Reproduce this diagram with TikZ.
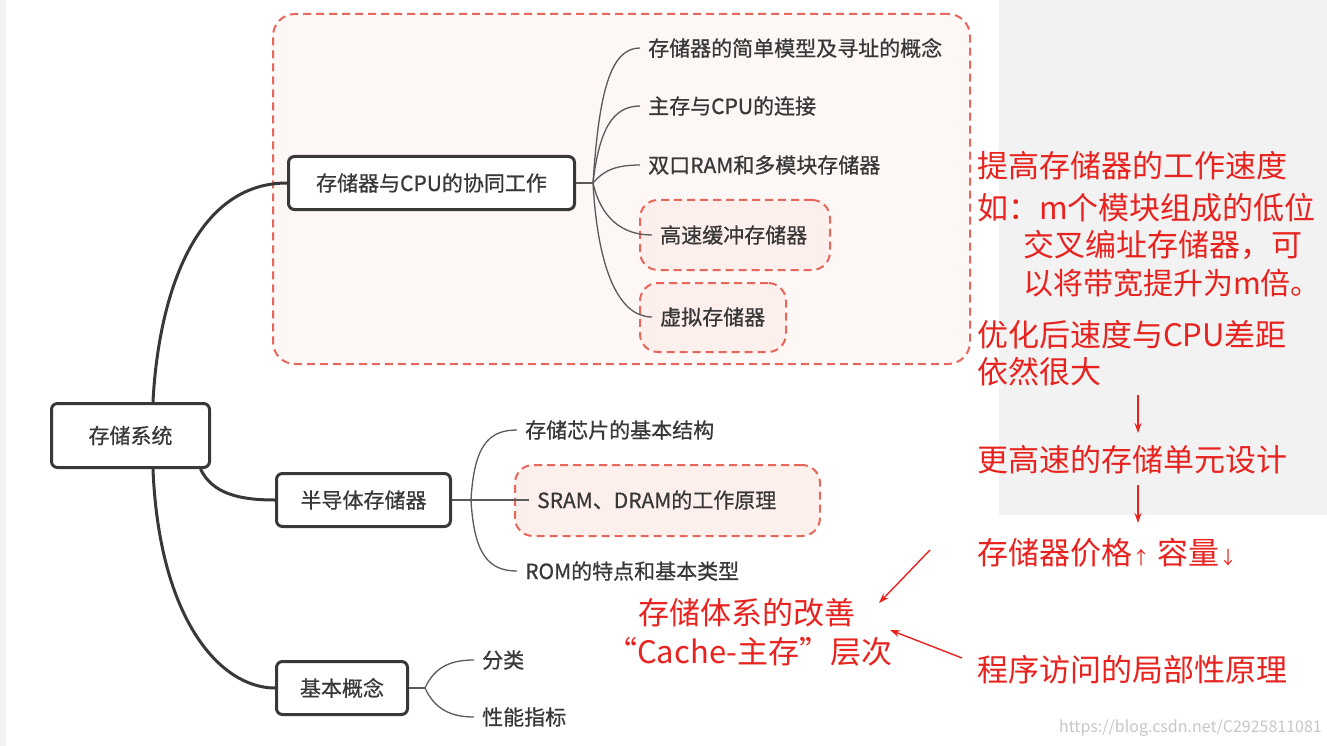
\documentclass[tikz,border=0pt]{standalone}
\usepackage{fontspec}
\setmainfont{Noto Sans CJK SC}
\newfontfamily\mmfont{Noto Sans CJK SC}[FakeBold=0.7]
\usetikzlibrary{arrows.meta}
\definecolor{dk}{HTML}{383838}
\definecolor{lk}{HTML}{5a5a5a}
\definecolor{dred}{HTML}{E8675C}
\definecolor{pinkbg}{HTML}{FDF7F5}
\definecolor{pinkbg2}{HTML}{FCEFEC}
\definecolor{rtext}{HTML}{E8231F}
\definecolor{graybg}{HTML}{F2F2F2}
\tikzset{
  mainbox/.style={draw=dk, line width=3pt, rounded corners=6pt, fill=white,
    text=dk, font=\mmfont\fontsize{21}{25}\selectfont, inner sep=0pt},
  leaf/.style={anchor=west, inner xsep=8pt, inner ysep=2pt, text=dk,
    font=\mmfont\fontsize{21}{25}\selectfont},
  dbox/.style={draw=dred, dash pattern=on 8pt off 5pt, line width=2pt,
    rounded corners=18pt, fill=pinkbg2, inner sep=0pt},
  bigbox/.style={draw=dred, dash pattern=on 8pt off 5pt, line width=2pt,
    rounded corners=22pt, fill=pinkbg},
  mconn/.style={draw=dk, line width=3pt},
  lconn/.style={draw=lk, line width=1.3pt},
  rnote/.style={anchor=west, inner sep=0pt, text=rtext,
    font=\fontsize{31}{36}\selectfont},
  rarrow/.style={draw=rtext, line width=1.4pt, -{Stealth[length=10pt,width=7pt]}}
}
\begin{document}
\begin{tikzpicture}[x=1pt,y=-1pt]
\useasboundingbox (0,0) rectangle (1327,746);
\fill[white] (0,0) rectangle (1327,746);
\fill[graybg] (999,0) rectangle (1327,515);
\fill[graybg] (0,0) rectangle (6,746);

% group frame
\node[bigbox, minimum width=697pt, minimum height=350pt] (grp) at (621.5,189) {};
% small dashed boxes
\node[dbox, minimum width=190pt, minimum height=70pt] (hsbox) at (735,235) {};
\node[dbox, minimum width=146pt, minimum height=69pt] (vmbox) at (713,317.5) {};
\node[dbox, minimum width=305pt, minimum height=71pt] (srbox) at (667.5,500.5) {};

% main topic boxes
\node[mainbox, minimum width=158pt, minimum height=64pt] (root) at (130.5,435.5) {存储系统};
\node[mainbox, minimum width=286pt, minimum height=53pt] (cpu) at (431.5,183) {存储器与CPU的协同工作};
\node[mainbox, minimum width=174pt, minimum height=53pt] (semi) at (363.5,500) {半导体存储器};
\node[mainbox, minimum width=131pt, minimum height=53pt] (basic) at (342,688) {基本概念};

% leaves
\node[leaf] (l1) at (640,48) {存储器的简单模型及寻址的概念};
\node[leaf] (l2) at (640,106) {主存与CPU的连接};
\node[leaf] (l3) at (640,165) {双口RAM和多模块存储器};
\node[leaf] (l4) at (652,235) {高速缓冲存储器};
\node[leaf] (l5) at (652,317) {虚拟存储器};
\node[leaf] (s1) at (517,430) {存储芯片的基本结构};
\node[leaf] (s2) at (529,500) {SRAM、DRAM的工作原理};
\node[leaf] (s3) at (517,571) {ROM的特点和基本类型};
\node[leaf] (b1) at (474,660) {分类};
\node[leaf] (b2) at (474,717) {性能指标};

% branch points
\coordinate (cb) at (593,183);
\coordinate (sb) at (471,500);
\coordinate (bb) at (425,688);

% root connectors
\draw[mconn] ([xshift=22.5pt]root.north) .. controls +(5,-100) and +(-95,0) .. (cpu.west);
\draw[mconn] ([xshift=70pt]root.south) .. controls +(12,25) and +(-35,0) .. (semi.west);
\draw[mconn] ([xshift=22.5pt]root.south) .. controls +(6,150) and +(-55,0) .. (basic.west);

% cpu children
\draw[lconn] (cpu.east) -- (cb);
\draw[lconn] (cb) .. controls +(6,-90) and +(-30,0) .. (l1.west);
\draw[lconn] (cb) .. controls +(6,-52) and +(-28,0) .. (l2.west);
\draw[lconn] (cb) .. controls +(10,-12) and +(-25,0) .. (l3.west);
\draw[lconn] (cb) .. controls +(8,35) and +(-30,0) .. (l4.west);
\draw[lconn] (cb) .. controls +(5,90) and +(-32,0) .. (l5.west);

% semi children
\draw[lconn] (semi.east) -- (sb);
\draw[lconn] (sb) .. controls +(3,-55) and +(-28,0) .. (s1.west);
\draw[lconn] (sb) -- (s2.west);
\draw[lconn] (sb) .. controls +(3,55) and +(-28,0) .. (s3.west);

% basic children
\draw[lconn] (basic.east) -- (bb);
\draw[lconn] (bb) .. controls +(10,-22) and +(-22,0) .. (b1.west);
\draw[lconn] (bb) .. controls +(10,22) and +(-22,0) .. (b2.west);

% red notes
\node[rnote] (r1) at (977,166) {提高存储器的工作速度};
\node[rnote] (r2) at (977,208) {如：m个模块组成的低位};
\node[rnote] (r3) at (1023,245) {交叉编址存储器，可};
\node[rnote, font=\fontsize{30}{36}\selectfont] (r4) at (1023,283) {以将带宽提升为m倍。};
\node[rnote] (r5) at (977,335) {优化后速度与CPU差距};
\node[rnote] (r6) at (977,372) {依然很大};
\node[rnote] (r7) at (977,460) {更高速的存储单元设计};
\node[rnote] (r8) at (977,553) {存储器价格{\fontsize{18}{20}\selectfont ↑} 容量{\fontsize{18}{20}\selectfont ↓}};
\node[rnote] (r9) at (638,613) {存储体系的改善};
\node[rnote] (r10) at (606,652) {“Cache-主存”层次};
\node[rnote] (r11) at (977,670) {程序访问的局部性原理};

\coordinate (a1s) at (1138,395);
\coordinate (a1e) at (1138,433);
\coordinate (a2s) at (1138,485);
\coordinate (a2e) at (1138,523);
\coordinate (a3s) at (930,550);
\coordinate (a3e) at (879,603);
\coordinate (a4s) at (962,658);
\coordinate (a4e) at (890,630);
\draw[rarrow] (a1s) -- (a1e);
\draw[rarrow] (a2s) -- (a2e);
\draw[rarrow] (a3s) -- (a3e);
\draw[rarrow] (a4s) -- (a4e);

% watermark
\node[anchor=east, inner sep=0pt, text=black!22, font=\fontsize{16}{18}\selectfont] (wm) at (1322,728) {https://blog.csdn.net/C2925811081};
\end{tikzpicture}
\end{document}
